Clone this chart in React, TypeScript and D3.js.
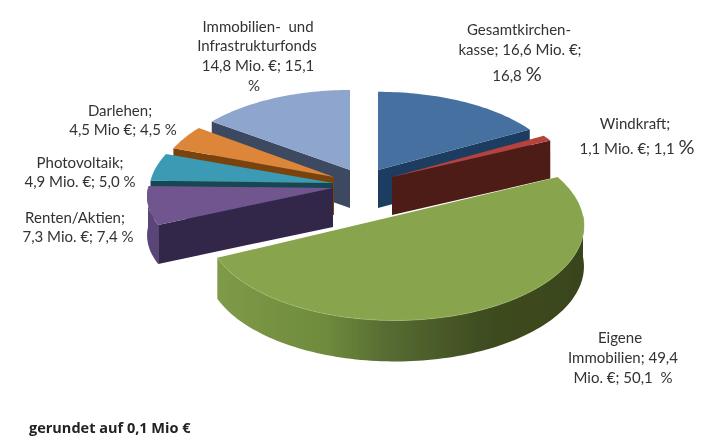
import * as d3 from 'd3';

const W = 719;
const H = 444;

// clockwise from 12 o'clock, as in the source chart
const names = ['Gesamtkirchenkasse', 'Windkraft', 'Eigene Immobilien', 'Renten/Aktien', 'Photovoltaik', 'Darlehen', 'Immobilien- und Infrastrukturfonds'];
const millions = [16.6, 1.1, 49.4, 7.3, 4.9, 4.5, 14.8];
const percents = [16.8, 1.1, 50.1, 7.4, 5.0, 4.5, 15.1];

const topColors = ['#44709f', '#b5423e', '#88a44e', '#70548f', '#3a9ab4', '#dd8537', '#8ea5ce'];
const edgeColors = ['#1f3c60', '#4e1a18', '#3a451c', '#32254a', '#154653', '#7a4310', '#3c4861'];

// exploded slices: apex on screen and ellipse radii of each
const apexX = [378, 392, 395, 333, 333, 334, 350];
const apexY = [170, 177, 216, 188, 183, 177, 170];
const radiusX = [183, 183, 188, 185, 183, 176, 180];
const radiusY = [86, 88, 94, 83, 90, 89, 88];
const depth = [38, 38, 41, 39, 38, 38, 38];

const drawOrder = [6, 5, 4, 3, 0, 1, 2];
const persp = 0.1;

const labels: { x: number; y: number; text: string; big?: boolean }[] = [
  { x: 258, y: 32, text: 'Immobilien-  und' },
  { x: 257, y: 51, text: 'Infrastrukturfonds' },
  { x: 258, y: 71, text: '14,8 Mio. €; 15,1' },
  { x: 254, y: 91, text: '%' },
  { x: 519, y: 35, text: 'Gesamtkirchen-' },
  { x: 520, y: 55, text: 'kasse; 16,6 Mio. €;' },
  { x: 517, y: 81, text: '16,8 ', big: true },
  { x: 635, y: 129, text: 'Windkraft;' },
  { x: 637, y: 154, text: '1,1 Mio. €; 1,1 ', big: true },
  { x: 120, y: 116, text: 'Darlehen;' },
  { x: 123, y: 135, text: '4,5 Mio €; 4,5 %' },
  { x: 80, y: 168, text: 'Photovoltaik;' },
  { x: 80, y: 187, text: '4,9 Mio. €; 5,0 %' },
  { x: 75, y: 223, text: 'Renten/Aktien;' },
  { x: 78, y: 242, text: '7,3 Mio. €; 7,4 %' },
  { x: 620, y: 343, text: 'Eigene' },
  { x: 623, y: 363, text: 'Immobilien; 49,4' },
  { x: 623, y: 383, text: 'Mio. €; 50,1  %' },
];

const pie = d3.pie<number>().sort(null).value(d => d);
const arcs = pie(percents);
const line = d3.line<[number, number]>();

function project(i: number, angle: number): [number, number] {
  const u = Math.sin(angle);
  const v = Math.cos(angle);
  const s = 1 / (1 + persp * v);
  return [apexX[i] + radiusX[i] * u * s, apexY[i] - radiusY[i] * v * s];
}

function rim(i: number, a0: number, a1: number): [number, number][] {
  const steps = Math.max(4, Math.ceil((a1 - a0) * 40));
  return d3.range(steps + 1).map(k => project(i, a0 + ((a1 - a0) * k) / steps));
}

function Slice({ i }: { i: number }) {
  const { startAngle, endAngle } = arcs[i];
  const apex: [number, number] = [apexX[i], apexY[i]];
  const d = depth[i];
  const down = (p: [number, number]): [number, number] => [p[0], p[1] + d];
  const face = (p: [number, number]) => line([apex, p, down(p), down(apex)]) + 'Z';

  // outer wall, only the part turned to the viewer
  const w0 = Math.max(startAngle, Math.PI / 2);
  const w1 = Math.min(endAngle, (3 * Math.PI) / 2);
  const wall = w1 > w0 ? rim(i, w0, w1) : null;

  return (
    <g>
      {Math.sin(startAngle) < -0.01 && <path d={face(project(i, startAngle))} fill={edgeColors[i]} />}
      {Math.sin(endAngle) > 0.01 && <path d={face(project(i, endAngle))} fill={edgeColors[i]} />}
      {wall && (
        <path
          d={line([...wall, ...wall.map(down).reverse()]) + 'Z'}
          fill={i === 2 ? 'url(#wallGreen)' : '#5a4478'}
        />
      )}
      <path d={line([apex, ...rim(i, startAngle, endAngle)]) + 'Z'} fill={topColors[i]} />
      {i === 2 && wall && <path d={line(wall) ?? ''} fill="none" stroke="#a3bb6c" strokeWidth={1} strokeOpacity={0.6} />}
    </g>
  );
}

export default function App() {
  return (
    <svg
      width={W}
      height={H}
      viewBox={`0 0 ${W} ${H}`}
      style={{ position: 'absolute', left: 0, top: 0, background: '#fff' }}
      aria-label={names.map((n, i) => `${n} ${millions[i]}`).join(', ')}
    >
      <defs>
        <linearGradient id="wallGreen" gradientUnits="userSpaceOnUse" x1="218" y1="0" x2="585" y2="0">
          <stop offset="0" stopColor="#7f9a48" />
          <stop offset="0.3" stopColor="#6e8a3c" />
          <stop offset="0.45" stopColor="#586d33" />
          <stop offset="0.72" stopColor="#3f4d20" />
          <stop offset="1" stopColor="#39441b" />
        </linearGradient>
        <filter id="soft" x="-5%" y="-5%" width="110%" height="110%">
          <feGaussianBlur stdDeviation="0.7" />
        </filter>
        <filter id="softText" x="-5%" y="-5%" width="110%" height="110%">
          <feGaussianBlur stdDeviation="0.4" />
        </filter>
      </defs>
      <g filter="url(#soft)">
        {drawOrder.map(i => (
          <Slice key={i} i={i} />
        ))}
      </g>
      <g filter="url(#softText)" fontFamily="Lato, 'Noto Sans', sans-serif" fontSize={15} fill="#333" textAnchor="middle">
        {labels.map(l => (
          <text key={l.text} x={l.x} y={l.y} xmlSpace="preserve">
            {l.text}
            {l.big && <tspan fontSize={20}>%</tspan>}
          </text>
        ))}
        <text x={29} y={433} textAnchor="start" fontWeight="bold" fontSize={14.5} fontFamily="'Open Sans', sans-serif" fill="#222">
          gerundet auf 0,1 Mio €
        </text>
      </g>
    </svg>
  );
}
